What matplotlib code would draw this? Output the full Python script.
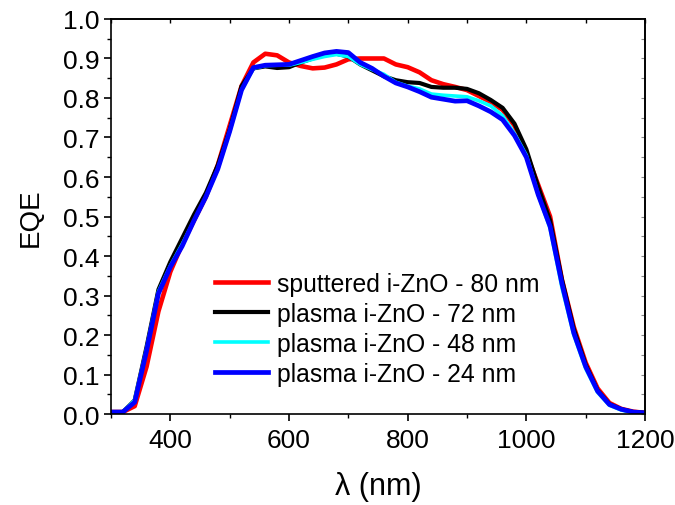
import matplotlib
matplotlib.use("Agg")
import matplotlib.pyplot as plt
from matplotlib.ticker import MultipleLocator

# wavelength grid (nm)
wavelength = [300, 320, 340, 360, 380, 400, 420, 440, 460, 480,
              500, 520, 540, 560, 580, 600, 620, 640, 660, 680,
              700, 720, 740, 760, 780, 800, 820, 840, 860, 880,
              900, 920, 940, 960, 980, 1000, 1020, 1040, 1060, 1080,
              1100, 1120, 1140, 1160, 1180, 1200]

# EQE curves
eqe_sputtered_80 = [0.005, 0.005, 0.02, 0.12, 0.26, 0.36, 0.43, 0.49, 0.55, 0.63,
                    0.73, 0.83, 0.89, 0.912, 0.908, 0.89, 0.881, 0.875, 0.877, 0.885,
                    0.898, 0.90, 0.90, 0.90, 0.885, 0.878, 0.865, 0.845, 0.835, 0.828,
                    0.82, 0.805, 0.79, 0.77, 0.73, 0.66, 0.58, 0.50, 0.34, 0.22,
                    0.13, 0.065, 0.028, 0.013, 0.006, 0.003]
eqe_plasma_72 = [0.005, 0.005, 0.035, 0.17, 0.315, 0.385, 0.445, 0.505, 0.56, 0.63,
                 0.72, 0.83, 0.875, 0.88, 0.876, 0.878, 0.89, 0.90, 0.91, 0.912,
                 0.905, 0.885, 0.87, 0.855, 0.845, 0.84, 0.838, 0.828, 0.826, 0.826,
                 0.823, 0.812, 0.795, 0.775, 0.735, 0.67, 0.575, 0.49, 0.34, 0.215,
                 0.125, 0.06, 0.025, 0.012, 0.005, 0.003]
eqe_plasma_48 = [0.005, 0.005, 0.035, 0.165, 0.31, 0.375, 0.43, 0.49, 0.55, 0.62,
                 0.715, 0.82, 0.875, 0.882, 0.883, 0.883, 0.89, 0.898, 0.905, 0.91,
                 0.905, 0.885, 0.872, 0.86, 0.84, 0.83, 0.823, 0.81, 0.807, 0.805,
                 0.803, 0.793, 0.78, 0.755, 0.71, 0.655, 0.555, 0.47, 0.32, 0.20,
                 0.115, 0.055, 0.022, 0.01, 0.004, 0.002]
eqe_plasma_24 = [0.005, 0.005, 0.03, 0.16, 0.305, 0.372, 0.425, 0.49, 0.55, 0.62,
                 0.715, 0.82, 0.877, 0.883, 0.884, 0.885, 0.895, 0.905, 0.914, 0.918,
                 0.915, 0.89, 0.875, 0.855, 0.838, 0.828, 0.816, 0.802, 0.797, 0.792,
                 0.793, 0.78, 0.765, 0.745, 0.705, 0.65, 0.555, 0.475, 0.33, 0.205,
                 0.12, 0.058, 0.024, 0.012, 0.005, 0.003]

labels = ["sputtered i-ZnO - 80 nm", "plasma i-ZnO - 72 nm",
          "plasma i-ZnO - 48 nm", "plasma i-ZnO - 24 nm"]

plt.rcParams["font.family"] = ["Liberation Sans", "DejaVu Sans"]

fig = plt.figure(figsize=(6.75, 5.06), dpi=100)
ax = fig.add_axes([0.1644, 0.1798, 0.7912, 0.7807])

ax.plot(wavelength, eqe_sputtered_80, color="#ff0000", lw=3.3, label=labels[0])
ax.plot(wavelength, eqe_plasma_72, color="#000000", lw=3.0, label=labels[1])
ax.plot(wavelength, eqe_plasma_48, color="#00ffff", lw=2.6, label=labels[2])
ax.plot(wavelength, eqe_plasma_24, color="#0000ff", lw=3.4, label=labels[3])

ax.set_xlim(300, 1200)
ax.set_ylim(0, 1.0)
ax.xaxis.set_major_locator(MultipleLocator(200))
ax.xaxis.set_minor_locator(MultipleLocator(100))
ax.yaxis.set_major_locator(MultipleLocator(0.1))
ax.yaxis.set_minor_locator(MultipleLocator(0.05))
ax.yaxis.set_major_formatter(matplotlib.ticker.FormatStrFormatter("%.1f"))

for s in ax.spines.values():
    s.set_linewidth(1.2)
ax.tick_params(which="major", direction="out", length=5, width=1.2,
               labelsize=19)
ax.tick_params(which="minor", direction="out", length=3, width=1.0)
ax.tick_params(axis="x", which="major", pad=5)
ax.tick_params(axis="y", which="major", pad=3)

# short inward ticks on the top and right frame
top = ax.secondary_xaxis("top")
top.xaxis.set_major_locator(MultipleLocator(200))
top.xaxis.set_minor_locator(MultipleLocator(100))
top.tick_params(which="both", direction="in", length=3, width=1.0, labeltop=False)
right = ax.secondary_yaxis("right")
right.yaxis.set_major_locator(MultipleLocator(0.1))
right.yaxis.set_minor_locator(MultipleLocator(0.05))
right.tick_params(which="both", direction="in", length=3, width=0.8,
                  color="#888888", labelright=False)
for s in list(top.spines.values()) + list(right.spines.values()):
    s.set_linewidth(1.2)

ax.set_xlabel("λ (nm)", fontsize=22, labelpad=14)
ax.set_ylabel("EQE", fontsize=20, labelpad=14)

ax.legend(loc="upper left", bbox_to_anchor=(0.195, 0.36), frameon=False,
          fontsize=17.8, handlelength=2.15, handletextpad=0.35,
          labelspacing=0.24, borderpad=0, borderaxespad=0)

fig.savefig("out.png", dpi=100)
